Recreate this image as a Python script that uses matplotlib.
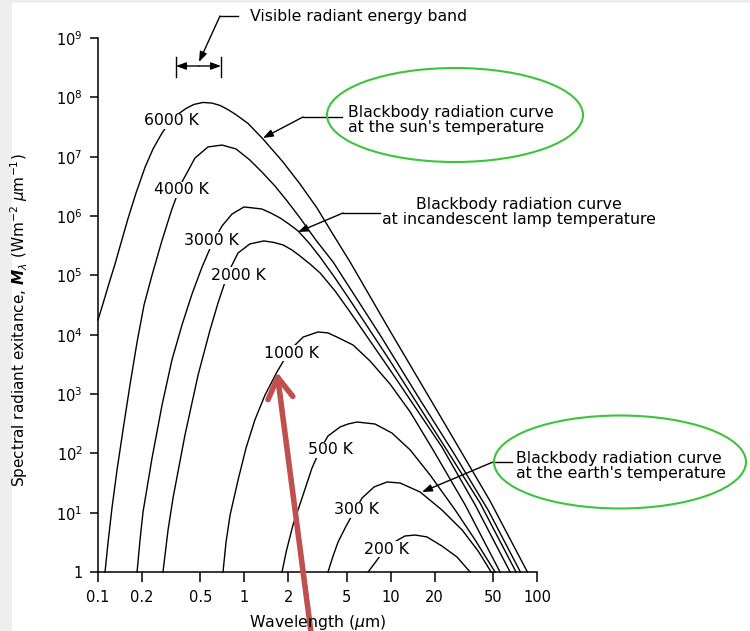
import matplotlib
matplotlib.use('Agg')
import matplotlib.pyplot as plt
from matplotlib.patches import Ellipse, Rectangle
from matplotlib.lines import Line2D

# wavelength (um) and spectral radiant exitance (W m-2 um-1)
wl_6000 = [0.100, 0.1065, 0.117, 0.1307, 0.1436, 0.160, 0.1819, 0.210, 0.2377, 0.274, 0.3105,
           0.352, 0.3996, 0.453, 0.522, 0.601, 0.682, 0.774, 0.877, 1.06, 1.34, 1.84, 2.40,
           3.14, 4.04, 5.28, 9.91, 21.8, 47.8, 86.0]
m_6000 = [1.77e4, 2.93e4, 6.4e4, 1.55e5, 3.51e5, 8.9e5, 2.44e6, 6.7e6, 1.35e7, 2.51e7, 3.85e7,
          5.2e7, 6.5e7, 7.6e7, 8.2e7, 8.0e7, 7.3e7, 6.2e7, 5.1e7, 3.63e7, 1.99e7, 8.1e6, 3.47e6,
          1.36e6, 4.88e5, 1.68e5, 1.15e4, 426, 15.7, 1]

wl_4000 = [0.1117, 0.117, 0.1246, 0.1349, 0.1482, 0.1654, 0.1849, 0.2063, 0.234, 0.274, 0.320,
           0.375, 0.460, 0.565, 0.704, 0.877, 1.09, 1.32, 1.62, 1.96, 2.40, 3.09, 4.04, 8.46,
           15.9, 26.7, 46.3, 77.0]
m_4000 = [1, 3.08, 12.0, 52.4, 247, 1.42e3, 7.5e3, 3.16e4, 1.01e5, 3.9e5, 1.31e6,
          3.74e6, 9.5e6, 1.46e7, 1.57e7, 1.35e7, 8.8e6, 5.5e6, 3.2e6, 1.79e6, 9.3e5, 3.9e5,
          1.68e5, 9.9e3, 793, 105, 11.1, 1]

wl_3000 = [0.1849, 0.1937, 0.2031, 0.234, 0.274, 0.320, 0.375, 0.439, 0.514, 0.601, 0.704,
           0.824, 0.995, 1.165, 1.32, 1.52, 1.75, 2.02, 2.33, 2.77, 3.29, 4.17, 5.28, 9.91,
           24.7, 40.8, 71.9]
m_3000 = [1, 3.46, 10.3, 83, 653, 3.74e3, 1.46e4, 4.85e4, 1.38e5, 3.38e5, 6.8e5,
          1.08e6, 1.42e6, 1.36e6, 1.31e6, 1.12e6, 9.3e5, 7.3e5, 5.6e5, 3.5e5, 2.04e5, 9.0e4,
          3.8e4, 3.6e3, 105, 14.6, 1]

wl_2000 = [0.278, 0.301, 0.3256, 0.393, 0.483, 0.583, 0.661, 0.774, 0.906, 1.09, 1.36,
           1.596, 1.84, 2.12, 2.40, 2.81, 3.29, 4.17, 5.28, 9.91, 22.4, 37.8, 65.5]
m_2000 = [1, 5.1, 17.7, 204, 2.09e3, 1.2e4, 3.42e4, 1.1e5, 2.38e5, 3.38e5, 3.8e5,
          3.58e5, 3.25e5, 2.67e5, 2.12e5, 1.55e5, 1.1e5, 5.45e4, 2.41e4, 2.54e3, 128, 13.5, 1]

wl_1000 = [0.715, 0.75, 0.799, 0.906, 1.027, 1.18, 1.385, 1.67, 2.05, 2.52, 3.19, 3.73,
           4.30, 5.53, 7.23, 9.91, 13.6, 19.5, 32.3, 55.9]
m_1000 = [1, 3.2, 9.1, 35.5, 123, 365, 962, 2.35e3, 5.5e3, 9.1e3, 1.11e4, 1.07e4,
          9.1e3, 6.7e3, 3.6e3, 1.47e3, 498, 114, 13.5, 1]

wl_500 = [1.81, 1.93, 2.15, 2.48, 2.90, 3.29, 3.73, 4.51, 5.11, 5.89, 7.82, 10.2, 13.6,
          18.6, 27.6, 37.8, 51.7]
m_500 = [1, 2.17, 6.2, 17.7, 56.6, 114, 196, 278, 312, 337, 312, 220, 114,
         43.1, 11.1, 3.46, 1]

wl_300 = [3.73, 4.04, 4.37, 4.88, 5.45, 6.38, 7.70, 9.45, 11.6, 15.9, 22.4, 30.8, 39.6, 48.6]
m_300 = [1, 1.86, 3.2, 5.5, 9.1, 17.7, 27.1, 32.9, 31.6, 22.3, 11.1, 5.1, 2.26, 1]

wl_200 = [7.01, 7.70, 8.46, 9.60, 10.9, 12.5, 14.7, 17.7, 22.4, 28.4, 34.9]
m_200 = [1, 1.36, 1.86, 2.54, 3.33, 4.04, 4.2, 3.9, 2.74, 1.79, 1]

temps = ['6000 K', '4000 K', '3000 K', '2000 K', '1000 K', '500 K', '300 K', '200 K']
curves_wl = [wl_6000, wl_4000, wl_3000, wl_2000, wl_1000, wl_500, wl_300, wl_200]
curves_m = [m_6000, m_4000, m_3000, m_2000, m_1000, m_500, m_300, m_200]

x_ticks = [0.1, 0.2, 0.5, 1, 2, 5, 10, 20, 50, 100]
x_ticklabels = ['0.1', '0.2', '0.5', '1', '2', '5', '10', '20', '50', '100']
y_ticks = [10.0 ** k for k in range(10)]
y_ticklabels = ['1'] + ['$10^{%d}$' % k for k in range(1, 10)]

# where the temperature labels sit on the curves (data coords)
label_pos = [(0.32, 4.0e7), (0.37, 2.75e6), (0.60, 3.9e5), (0.91, 1.0e5),
             (2.09, 4.9e3), (3.85, 114), (5.8, 11.1), (9.3, 2.44)]

W, H = 750, 631


def fpos(x, y):
    # pixel position (from top-left) -> figure fraction
    return (x / W, 1 - y / H)


fig = plt.figure(figsize=(7.5, 6.31), dpi=100, facecolor='#eeeeee')
fig.patches.append(Rectangle((12 / W, 0), 1, 1 - 3 / H, transform=fig.transFigure,
                             facecolor='white', edgecolor='none', zorder=-10))

ax = fig.add_axes([98 / W, 1 - 572 / H, (537 - 98) / W, (572 - 38) / H])
ax.set_facecolor('none')

for wl, m in zip(curves_wl, curves_m):
    ax.plot(wl, m, color='black', lw=1.0, clip_on=False, solid_joinstyle='round')

ax.set_xscale('log')
ax.set_yscale('log')
ax.set_xlim(0.1, 100)
ax.set_ylim(1, 1e9)
ax.set_xticks(x_ticks)
ax.set_xticklabels(x_ticklabels)
ax.set_yticks(y_ticks)
ax.set_yticklabels(y_ticklabels)
ax.minorticks_off()
for s in ['top', 'right']:
    ax.spines[s].set_visible(False)
for s in ['left', 'bottom']:
    ax.spines[s].set_linewidth(1.1)
ax.tick_params(axis='x', length=7, width=1.1, pad=6, labelsize=10.5)
ax.tick_params(axis='y', length=6, width=1.1, pad=5, labelsize=10.5)

for t, (lx, ly) in zip(temps, label_pos):
    ax.text(lx, ly, t, ha='center', va='center', fontsize=11.3, zorder=3,
            bbox=dict(facecolor='white', edgecolor='none', pad=0.6))

fig.text(19 / W, 1 - 320 / H,
         r'Spectral radiant exitance, $\mathbfit{M}_{\lambda}$ (Wm$^{-2}$ $\mu$m$^{-1}$)',
         rotation=90, ha='center', va='center', fontsize=11)
fig.text(318 / W, 1 - 627 / H, r'Wavelength ($\mu$m)', ha='center', va='baseline', fontsize=11.3)


def fig_line(pts):
    xs = [p[0] / W for p in pts]
    ys = [1 - p[1] / H for p in pts]
    fig.add_artist(Line2D(xs, ys, transform=fig.transFigure, color='black', lw=1.0))


def fig_arrow(p0, p1, style='-|>,head_length=0.6,head_width=0.22'):
    ax.annotate('', xy=fpos(*p1), xycoords='figure fraction',
                xytext=fpos(*p0), textcoords='figure fraction', annotation_clip=False,
                arrowprops=dict(arrowstyle=style, color='black', lw=1.0,
                                shrinkA=0, shrinkB=0, mutation_scale=10))


# visible band marker
fig.text(250 / W, 1 - 16 / H, 'Visible radiant energy band', ha='left', va='center', fontsize=11.3)
fig_line([(238, 16), (220, 16)])
fig_arrow((220, 16), (199, 62))
fig_line([(176, 57), (176, 77)])
fig_line([(221, 57), (221, 77)])
fig_arrow((199, 66), (176, 66))
fig_arrow((199, 66), (221, 66))

# sun
fig.text(348 / W, 1 - 120 / H, "Blackbody radiation curve\nat the sun's temperature",
         ha='left', va='center', fontsize=11.3, linespacing=1.0)
fig_line([(342, 117), (303, 117)])
fig_arrow((303, 117), (263, 138))

# incandescent lamp
fig.text(519 / W, 1 - 212 / H, "Blackbody radiation curve\nat incandescent lamp temperature",
         ha='center', va='center', fontsize=11.3, linespacing=1.0)
fig_line([(380, 213), (343, 213)])
fig_arrow((343, 213), (298, 232))

# earth
fig.text(516 / W, 1 - 466 / H, "Blackbody radiation curve\nat the earth's temperature",
         ha='left', va='center', fontsize=11.3, linespacing=1.0)
fig_line([(512, 462), (493, 462)])
fig_arrow((493, 462), (422, 492))

# green highlight ellipses
for cx, cy, ew, eh in [(455, 115, 256, 94), (620, 462, 252, 93)]:
    fig.add_artist(Ellipse(fpos(cx, cy), ew / W, eh / H, transform=fig.transFigure,
                           fill=False, edgecolor='#3cc43c', lw=1.5, zorder=5))

# red pointer arrow
ax.annotate('', xy=fpos(277, 372), xycoords='figure fraction',
            xytext=fpos(312, 640), textcoords='figure fraction', annotation_clip=False,
            arrowprops=dict(arrowstyle='->,head_length=0.75,head_width=0.45', color='#c0504d',
                            lw=4, shrinkA=0, shrinkB=0, mutation_scale=20), zorder=10)

fig.savefig('out.png', dpi=100, facecolor=fig.get_facecolor())
